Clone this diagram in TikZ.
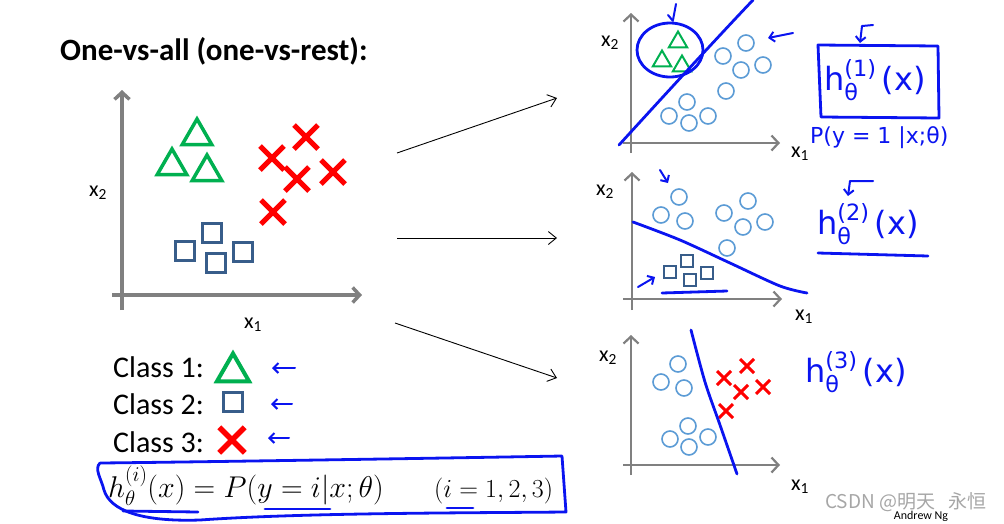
\RequirePackage{fix-cm}
\documentclass[tikz,border=0pt]{standalone}
\usepackage[no-math]{fontspec}
\setmainfont{Carlito}
\newfontfamily\cjk{Noto Sans CJK SC}
\newfontfamily\handfont{DejaVu Sans}
\usepackage{amsmath}
\usepackage{xcolor}
\usepackage{tikz}
\usetikzlibrary{arrows.meta,shapes.geometric,shapes.misc}

\definecolor{trigreen}{RGB}{0,176,80}
\definecolor{sqblue}{RGB}{56,93,138}
\definecolor{xred}{RGB}{255,0,0}
\definecolor{ciblue}{RGB}{91,155,213}
\definecolor{handblue}{RGB}{10,20,240}
\definecolor{axisgray}{RGB}{128,128,128}

\tikzset{
  tri/.style={regular polygon, regular polygon sides=3, draw=trigreen, line width=3.5pt, minimum size=34pt, inner sep=0pt},
  sq/.style={rectangle, draw=sqblue, line width=3pt, minimum size=19pt, inner sep=0pt},
  crs/.style={cross out, draw=xred, line width=5pt, minimum size=19pt, inner sep=0pt},
  dot/.style={circle, draw=ciblue, line width=1.6pt, minimum size=16pt, inner sep=0pt},
  axis/.style={draw=axisgray, line width=3.5pt, -{Straight Barb[length=7pt,width=15pt]}},
  hand/.style={draw=handblue, line width=2.8pt, line cap=round, line join=round},
  handarrow/.style={hand, line width=2pt, -{Straight Barb[length=5pt,width=10pt]}},
  handtext/.style={text=handblue, inner sep=0pt, font=\handfont\fontsize{32}{36}\selectfont},
  link/.style={black, line width=0.9pt, -{Straight Barb[length=8pt,width=13pt]}},
}

% handwritten hypothesis
\def\hyp#1{h$_{\text{\handfont θ}}^{\text{\handfont (#1)}}$\,(x)}

\begin{document}
\begin{tikzpicture}[x=1pt,y=-1pt]
\useasboundingbox (0,0) rectangle (1004,523);

% Title
\node[anchor=base west, inner sep=0pt, font=\fontsize{31}{36}\selectfont\bfseries] (title) at (60,60) {One-vs-all (one-vs-rest):};

% Main axes
\draw[axis] (122,310) -- (122,90);
\draw[axis] (112,295) -- (362,295);
\node[font=\fontsize{22}{26}\selectfont] (mx2) at (98,193) {x\textsubscript{2}};
\node[font=\fontsize{22}{26}\selectfont] (mx1) at (253,325) {x\textsubscript{1}};

% Class 1
\node[tri] (t1) at (197,136) {};
\node[tri] (t2) at (172,166) {};
\node[tri] (t3) at (207,172) {};
% Class 2
\node[sq] (s1) at (212,233) {};
\node[sq] (s2) at (185,251) {};
\node[sq] (s3) at (216,263) {};
\node[sq] (s4) at (243,252) {};
% Class 3
\node[crs] (x1) at (272,158) {};
\node[crs] (x2) at (306,137) {};
\node[crs] (x3) at (297,179) {};
\node[crs] (x4) at (333,172) {};
\node[crs] (x5) at (273,212) {};

% Arrows to the three classifiers
\coordinate (a1s) at (397,153);
\coordinate (a1e) at (557,98);
\coordinate (a2s) at (397,238);
\coordinate (a2e) at (557,238);
\coordinate (a3s) at (395,323);
\coordinate (a3e) at (557,378);
\draw[link] (a1s) -- (a1e);
\draw[link] (a2s) -- (a2e);
\draw[link] (a3s) -- (a3e);

% Legend
\node[anchor=base west, inner sep=0pt, font=\fontsize{30}{34}\selectfont] (c1) at (113,377) {Class 1:};
\node[anchor=base west, inner sep=0pt, font=\fontsize{30}{34}\selectfont] (c2) at (113,414) {Class 2:};
\node[anchor=base west, inner sep=0pt, font=\fontsize{30}{34}\selectfont] (c3) at (113,452) {Class 3:};
\node[tri, minimum size=37pt, line width=4pt] (lt) at (233,372) {};
\node[sq, line width=3.5pt] (ls) at (233,402) {};
\node[crs, minimum size=20pt, line width=5.5pt] (lx) at (232,440) {};
\draw[handarrow] (295,368) -- (272,368);
\draw[handarrow] (292,404) -- (271,404);
\draw[handarrow] (289,438) -- (268,438);

% Hypothesis
\node[anchor=base west, inner sep=0pt, font=\fontsize{30}{34}\selectfont] (hyp) at (108,497) {$h_\theta^{(i)}(x) = P(y=i|x;\theta)$};
\node[anchor=base west, inner sep=0pt, font=\fontsize{26}{30}\selectfont] (idx) at (434,497) {$(i=1,2,3)$};
\draw[hand] (100,463) .. controls (200,462) and (450,458) .. (562,456) -- (566,512)
  .. controls (450,513) and (300,513) .. (200,520) .. controls (140,522) and (110,510) .. (104,490)
  .. controls (101,478) and (94,469) .. (100,463);
\draw[hand] (123,511) -- (198,512);
\draw[hand] (265,509) -- (330,509);
\draw[hand] (447,508) -- (473,508);

% Classifier 1: triangles vs rest
\draw[axis, line width=2.2pt] (631,153) -- (631,13);
\draw[axis, line width=2.2pt] (623,143) -- (780,143);
\node[font=\fontsize{22}{26}\selectfont] (ax2) at (610,43) {x\textsubscript{2}};
\node[font=\fontsize{22}{26}\selectfont] (ax1) at (800,154) {x\textsubscript{1}};
\node[tri, minimum size=21pt, line width=2pt] (at1) at (678,42) {};
\node[tri, minimum size=21pt, line width=2pt] (at2) at (662,61) {};
\node[tri, minimum size=21pt, line width=2pt] (at3) at (682,66) {};
\node[dot] (ad1) at (746,43) {};
\node[dot] (ad2) at (723,56) {};
\node[dot] (ad3) at (741,70) {};
\node[dot] (ad4) at (763,65) {};
\node[dot] (ad5) at (726,91) {};
\node[dot] (ad6) at (687,102) {};
\node[dot] (ad7) at (669,116) {};
\node[dot] (ad8) at (708,116) {};
\node[dot] (ad9) at (689,123) {};
\draw[hand] (619,145) .. controls (660,100) and (715,40) .. (753,0);
\draw[hand] (670,50) ellipse [x radius=33pt, y radius=27pt];
\draw[hand, line width=2pt] (676,4) -- (673,20);
\draw[hand, line width=2pt] (668,15) -- (673,21);
\draw[handarrow] (793,33) -- (768,38);
\draw[hand] (818,45) -- (938,46) -- (939,118) -- (821,117) -- cycle;
\draw[handarrow] (873,25) -- (862,26) -- (860,43);
\node[handtext] (h1) at (875,80) {\hyp{1}};
\node[handtext, anchor=west, font=\handfont\fontsize{22}{26}\selectfont] (p1) at (810,138) {P(y = 1 |x;θ)};

% Classifier 2: squares vs rest
\draw[axis, line width=2.2pt] (632,310) -- (632,172);
\draw[axis, line width=2.2pt] (623,299) -- (782,299);
\node[font=\fontsize{22}{26}\selectfont] (bx2) at (605,192) {x\textsubscript{2}};
\node[font=\fontsize{22}{26}\selectfont] (bx1) at (804,317) {x\textsubscript{1}};
\node[dot] (bd1) at (679,197) {};
\node[dot] (bd2) at (661,215) {};
\node[dot] (bd3) at (685,221) {};
\node[dot] (bd4) at (724,213) {};
\node[dot] (bd5) at (748,201) {};
\node[dot] (bd6) at (743,227) {};
\node[dot] (bd7) at (765,222) {};
\node[dot] (bd8) at (727,248) {};
\node[sq, minimum size=12pt, line width=2pt] (bs1) at (687,261) {};
\node[sq, minimum size=12pt, line width=2pt] (bs2) at (670,272) {};
\node[sq, minimum size=12pt, line width=2pt] (bs3) at (690,280) {};
\node[sq, minimum size=12pt, line width=2pt] (bs4) at (707,273) {};
\draw[hand] plot[smooth] coordinates {(633,222) (680,240) (730,263) (780,286) (807,293)};
\draw[hand] (662,293) -- (727,291);
\draw[handarrow] (638,287) -- (655,277);
\draw[handarrow] (660,170) -- (668,183);
\draw[handarrow] (873,181) -- (850,181) -- (848,196);
\node[handtext] (h2) at (868,224) {\hyp{2}};
\draw[hand] (818,253) -- (928,256);

% Classifier 3: crosses vs rest
\draw[axis, line width=2.2pt] (631,475) -- (631,335);
\draw[axis, line width=2.2pt] (623,465) -- (780,465);
\node[font=\fontsize{22}{26}\selectfont] (cx2) at (608,358) {x\textsubscript{2}};
\node[font=\fontsize{22}{26}\selectfont] (cx1) at (800,487) {x\textsubscript{1}};
\node[dot] (cd1) at (678,364) {};
\node[dot] (cd2) at (661,382) {};
\node[dot] (cd3) at (684,388) {};
\node[dot] (cd4) at (688,426) {};
\node[dot] (cd5) at (670,439) {};
\node[dot] (cd6) at (708,437) {};
\node[dot] (cd7) at (689,447) {};
\node[crs, minimum size=11pt, line width=3pt] (cc1) at (747,366) {};
\node[crs, minimum size=11pt, line width=3pt] (cc2) at (724,378) {};
\node[crs, minimum size=11pt, line width=3pt] (cc3) at (741,392) {};
\node[crs, minimum size=11pt, line width=3pt] (cc4) at (763,387) {};
\node[crs, minimum size=11pt, line width=3pt] (cc5) at (726,411) {};
\draw[hand] plot[smooth] coordinates {(691,330) (705,382) (720,425) (737,474)};
\node[handtext] (h3) at (856,372) {\hyp{3}};

% Footer
\node[text=black!35, font=\cjk\fontsize{19}{22}\selectfont] (mark) at (906,502) {CSDN @明天\hspace{0.5em} 永恒};
\node[font=\fontsize{12}{14}\selectfont] (ng) at (921,516) {Andrew Ng};

\end{tikzpicture}
\end{document}
